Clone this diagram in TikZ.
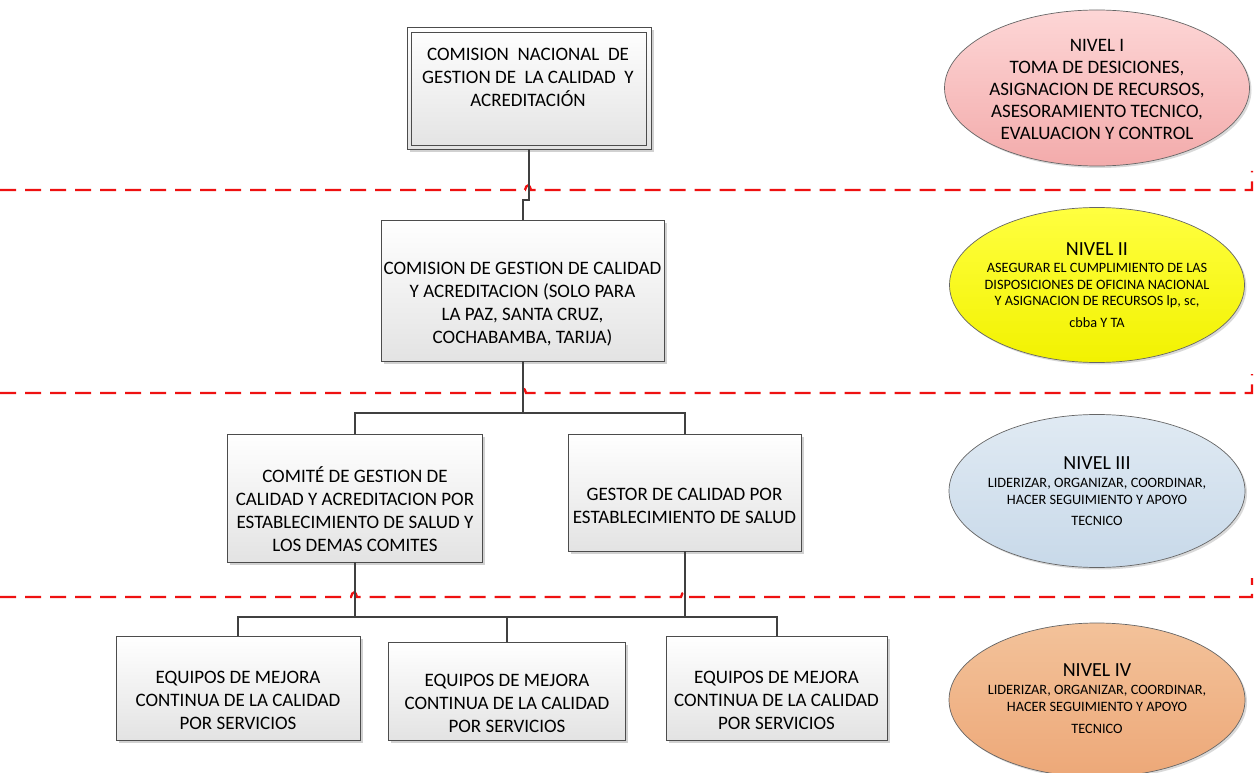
\documentclass[tikz,border=0pt]{standalone}
\usepackage{fontspec}
\setmainfont{Carlito}
\usetikzlibrary{shadows,shapes.geometric}
\definecolor{conn}{HTML}{404040}
\definecolor{sepred}{HTML}{EE1111}
\definecolor{pinkT}{HTML}{FDD6D6}\definecolor{pinkB}{HTML}{F3ABAB}
\definecolor{yelT}{HTML}{FFFF40}\definecolor{yelB}{HTML}{F2F200}
\definecolor{bluT}{HTML}{E0EAF3}\definecolor{bluB}{HTML}{C8D9E9}
\definecolor{orT}{HTML}{F3C29A}\definecolor{orB}{HTML}{EDA878}
\tikzset{
  boxs/.style={draw=black!70, line width=0.8pt, top color=white, bottom color=black!11,
    drop shadow={shadow xshift=3pt,shadow yshift=-3pt,fill=black!18,opacity=1}, inner sep=0pt},
  btext/.style={align=center, font=\fontsize{19}{23}\selectfont, inner sep=0pt},
  ell/.style={ellipse, draw=black!60, line width=0.7pt, inner sep=0pt,
    drop shadow={shadow xshift=2pt,shadow yshift=-2pt,fill=black!15,opacity=1}},
  etitle/.style={font=\fontsize{20}{22}\selectfont, inner sep=0pt},
  ebig/.style={align=center, font=\fontsize{19}{22}\selectfont, inner sep=0pt},
  esmall/.style={align=center, font=\fontsize{14.3}{16.5}\selectfont, inner sep=0pt},
  conline/.style={draw=conn, line width=2pt},
  sepline/.style={draw=sepred, line width=2.3pt, dash pattern=on 16pt off 9pt}
}
\begin{document}
\begin{tikzpicture}[x=1pt,y=-1pt]
\useasboundingbox (0,0) rectangle (1254,773);
\clip (0,0) rectangle (1254,773);
\fill[white] (0,0) rectangle (1254,773);

% separators
\draw[sepline] (0,190) -- (525,190) .. controls (526,184) and (530,184) .. (531,190) -- (1252,190) -- (1252,171);
\draw[sepline] (0,393) -- (520,393) .. controls (521,387) and (525,387) .. (526,393) -- (1252,393) -- (1252,374);
\draw[sepline] (0,597) -- (351,597) .. controls (352,591) and (356,591) .. (357,597) -- (681,597) .. controls (682,591) and (686,591) .. (687,597) -- (1252,597) -- (1252,578);

% boxes
\node[boxs, minimum width=244, minimum height=122] (b1o) at (529,88) {};
\node[draw=black!70, line width=0.8pt, inner sep=0pt, minimum width=235, minimum height=113] (b1i) at (529,88.5) {};
\node[btext] (t1) at (528,77) {COMISION\ \ NACIONAL\ \ DE\\GESTION DE\ \ LA CALIDAD\ \ Y\\ACREDITACIÓN};

\node[boxs, minimum width=283, minimum height=141] (b2) at (522.5,290.5) {};
\node[btext] (t2) at (522.5,304.5) {COMISION DE GESTION DE CALIDAD\\Y ACREDITACION (SOLO PARA\\LA PAZ, SANTA CRUZ,\\COCHABAMBA, TARIJA)};

\node[boxs, minimum width=255, minimum height=128] (b3a) at (354.5,498) {};
\node[btext] (t3a) at (355,509.5) {COMITÉ DE GESTION DE\\CALIDAD Y ACREDITACION POR\\ESTABLECIMIENTO DE SALUD Y\\LOS DEMAS COMITES};

\node[boxs, minimum width=233, minimum height=117] (b3b) at (684.5,492.5) {};
\node[btext] (t3b) at (684.5,505.5) {GESTOR DE CALIDAD POR\\ESTABLECIMIENTO DE SALUD};

\node[boxs, minimum width=244, minimum height=104] (b4a) at (238,688) {};
\node[btext] (t4a) at (238,700) {EQUIPOS DE MEJORA\\CONTINUA DE LA CALIDAD\\POR SERVICIOS};
\node[boxs, minimum width=237, minimum height=98] (b4b) at (506.5,691) {};
\node[btext] (t4b) at (507,703) {EQUIPOS DE MEJORA\\CONTINUA DE LA CALIDAD\\POR SERVICIOS};
\node[boxs, minimum width=221, minimum height=104] (b4c) at (776.5,688) {};
\node[btext] (t4c) at (776.5,700) {EQUIPOS DE MEJORA\\CONTINUA DE LA CALIDAD\\POR SERVICIOS};

% connectors
\draw[conline] (b1o.south) -- ++(0,51) -| (b2.north);
\draw[conline] (b2.south) -- ++(0,52) coordinate (j1);
\draw[conline] (b3a.north) -- ++(0,-21) -| (b3b.north);
\draw[conline] (b3a.south) -- ++(0,55) coordinate (j2);
\draw[conline] (b3b.south) -- ++(0,66) coordinate (j3);
\draw[conline] (b4a.north) -- ++(0,-19) -| (b4c.north);
\draw[conline] (b4b.north) -- ++(0,-25) coordinate (j4);

% ellipses
\node[ell, top color=pinkT, bottom color=pinkB, minimum width=305, minimum height=156] (e1) at (1097,88) {};
\node[ebig] (e1t) at (1097,89) {NIVEL I\\TOMA DE DESICIONES,\\ASIGNACION DE RECURSOS,\\ASESORAMIENTO TECNICO,\\EVALUACION Y CONTROL};

\node[ell, top color=yelT, bottom color=yelB, minimum width=295, minimum height=155] (e2) at (1097,285) {};
\node[etitle] (e2t) at (1097,249) {NIVEL II};
\node[esmall] (e2b) at (1097,286) {ASEGURAR EL CUMPLIMIENTO DE LAS\\DISPOSICIONES DE OFICINA NACIONAL\\Y ASIGNACION DE RECURSOS lp, sc,};
\node[esmall] (e2c) at (1097,323) {cbba Y TA};

\node[ell, top color=bluT, bottom color=bluB, minimum width=296, minimum height=153] (e3) at (1097,491) {};
\node[etitle] (e3t) at (1097,463) {NIVEL III};
\node[esmall] (e3b) at (1097,491.5) {LIDERIZAR, ORGANIZAR, COORDINAR,\\HACER SEGUIMIENTO Y APOYO};
\node[esmall] (e3c) at (1097,521) {TECNICO};

\node[ell, top color=orT, bottom color=orB, minimum width=296, minimum height=154] (e4) at (1097,700) {};
\node[etitle] (e4t) at (1097,670) {NIVEL IV};
\node[esmall] (e4b) at (1097,698.5) {LIDERIZAR, ORGANIZAR, COORDINAR,\\HACER SEGUIMIENTO Y APOYO};
\node[esmall] (e4c) at (1097,729) {TECNICO};
\end{tikzpicture}
\end{document}
